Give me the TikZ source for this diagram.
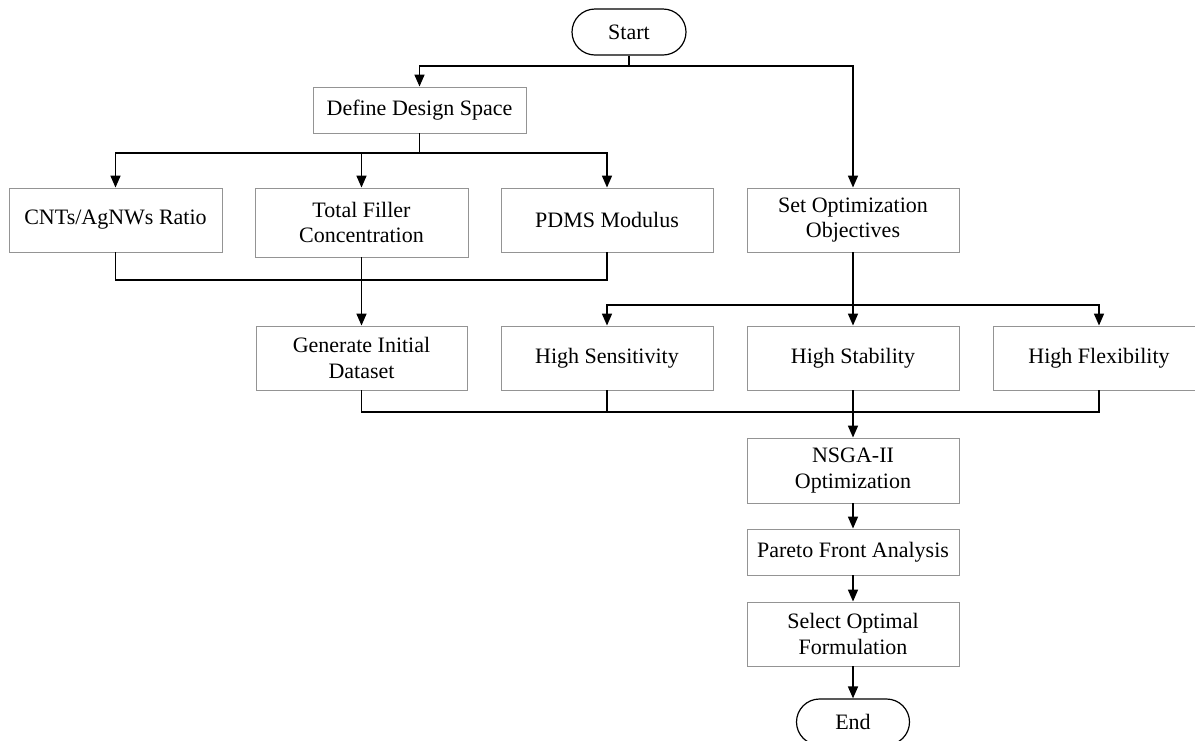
\documentclass[tikz,border=0pt]{standalone}
\usepackage{fontspec}
\setmainfont{Liberation Serif}
\usetikzlibrary{arrows.meta}
\begin{document}
\begin{tikzpicture}[x=1pt,y=-1pt,
  box/.style={draw=black!42, line width=0.9pt, fill=white, inner sep=0pt, align=center,
    font=\fontsize{22}{25.5}\selectfont, minimum width=212pt, minimum height=64pt},
  term/.style={draw=black, line width=1.2pt, rounded corners=23pt, inner sep=0pt,
    font=\fontsize{22}{25.5}\selectfont, minimum width=114pt, minimum height=46pt},
  conn/.style={draw=black, line width=1.6pt},
  arr/.style={conn, -{Triangle[length=12pt,width=10pt]}}]
\useasboundingbox (0,0) rectangle (1195,740);

\node[term] (start) at (629,32) {Start};
\node[box, minimum width=213pt, minimum height=46pt] (define) at (419.5,110) {Define Design Space};
\node[box, minimum width=213pt] (cnt) at (115.5,220) {CNTs/AgNWs Ratio};
\node[box, minimum width=213pt, minimum height=69pt] (tfc) at (361.5,222.5) {Total Filler\\Concentration};
\node[box] (pdms) at (607,220) {PDMS Modulus};
\node[box] (setopt) at (853,220) {Set Optimization\\Objectives};
\node[box, minimum width=211pt] (gen) at (361.5,358) {Generate Initial\\Dataset};
\node[box] (hsens) at (607,358) {High Sensitivity};
\node[box] (hstab) at (853,358) {High Stability};
\node[box, minimum width=230pt] (hflex) at (1108,358) {\hspace*{-18pt}High Flexibility};
\node[box, minimum height=65pt] (nsga) at (853,470.5) {NSGA-II\\Optimization};
\node[box, minimum height=46pt] (pareto) at (853,552) {Pareto Front Analysis};
\node[box] (select) at (853,634) {Select Optimal\\Formulation};
\node[term, minimum width=113pt] (end) at (853,722) {End};

\coordinate (b1) at (629,66);
\coordinate (b2) at (419.5,153);
\coordinate (m1) at (361.5,280);
\coordinate (b3) at (853,305);
\coordinate (m2) at (853,412);
\coordinate (fx) at (1099,358);

\draw[conn] (start.south) -- (b1);
\draw[arr] (b1) -| (define.north);
\draw[arr] (b1) -| (setopt.north);

\draw[conn] (define.south) -- (b2);
\draw[arr] (b2) -| (cnt.north);
\draw[arr] (b2) -| (tfc.north);
\draw[arr] (b2) -| (pdms.north);

\draw[conn] (cnt.south) |- (m1);
\draw[conn] (pdms.south) |- (m1);
\draw[arr] (tfc.south) -- (gen.north);

\draw[conn] (setopt.south) -- (b3);
\draw[arr] (b3) -| (hsens.north);
\draw[arr] (b3) -| (hstab.north);
\draw[arr] (b3) -| (fx |- hflex.north);

\draw[conn] (gen.south) |- (m2);
\draw[conn] (hsens.south) |- (m2);
\draw[conn] (fx |- hflex.south) |- (m2);
\draw[arr] (hstab.south) -- (nsga.north);

\draw[arr] (nsga) -- (pareto);
\draw[arr] (pareto) -- (select);
\draw[arr] (select) -- (end);
\end{tikzpicture}
\end{document}
